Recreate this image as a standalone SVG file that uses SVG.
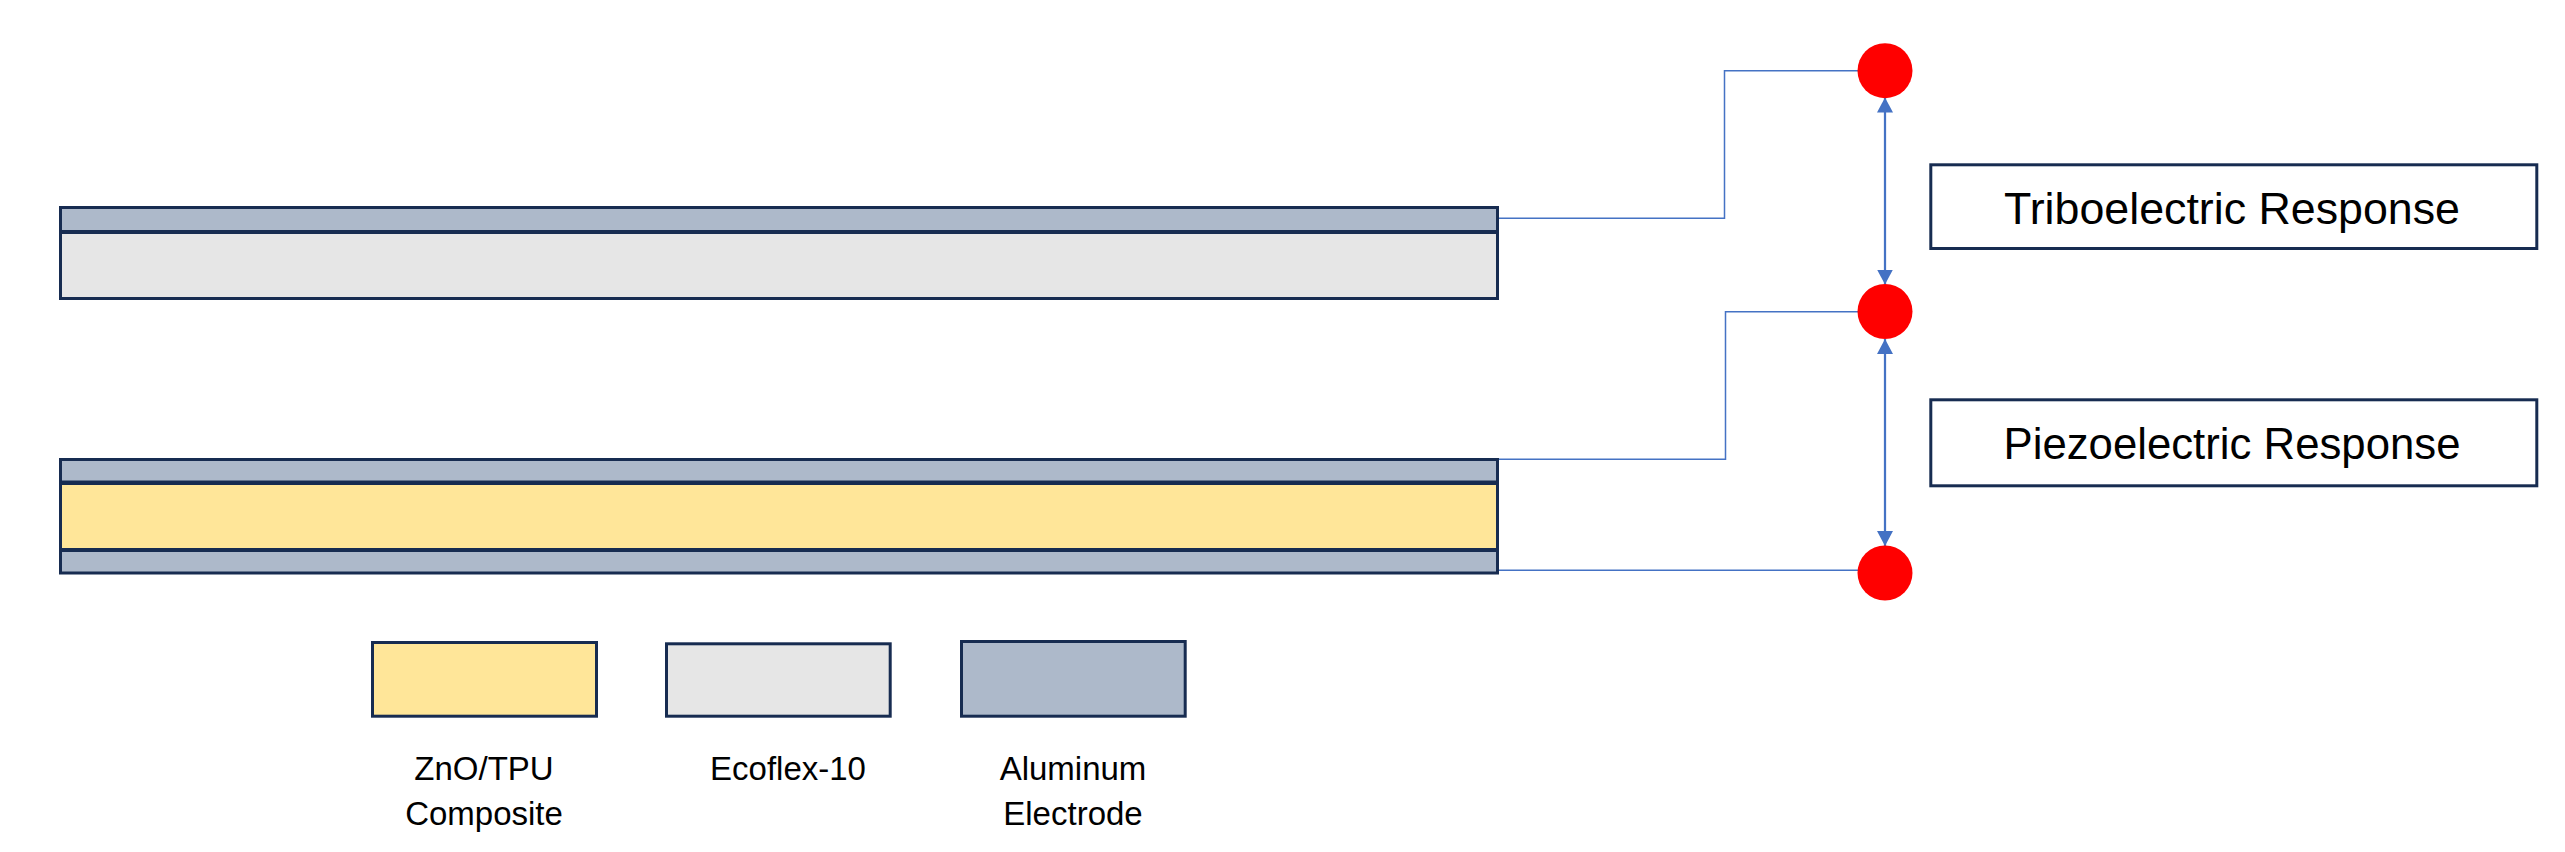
<svg xmlns="http://www.w3.org/2000/svg" width="2565" height="852" viewBox="0 0 2565 852">
  <style>
    .layer { stroke: #172C51; stroke-width: 3; }
    .al { fill: #ADB9CA; }
    .eco { fill: #E6E6E6; }
    .zno { fill: #FFE699; }
    .wire { fill: none; stroke: #4472C4; stroke-width: 1.5; }
    .dbl { fill: none; stroke: #4472C4; stroke-width: 2.25; marker-start: url(#arrow); marker-end: url(#arrow); }
    .term { fill: #FF0000; }
    .box { fill: #FFFFFF; stroke: #172C51; stroke-width: 3; }
    .lbl { font-family: "Liberation Sans", Arial, sans-serif; font-size: 44.5px; fill: #000000; text-anchor: middle; }
    .leg { font-family: "Liberation Sans", Arial, sans-serif; font-size: 33px; fill: #000000; text-anchor: middle; }
  </style>
  <defs>
    <marker id="arrow" viewBox="0 0 15 16" refX="15" refY="8" markerWidth="15" markerHeight="16" markerUnits="userSpaceOnUse" orient="auto-start-reverse">
      <path d="M0,0 L15,8 L0,16 z" fill="#4472C4"/>
    </marker>
  </defs>
  <rect width="2565" height="852" fill="#FFFFFF"/>

  <g id="connectors">
    <path class="wire" d="M1497,218.3 H1724.5 V70.7 H1858"/>
    <path class="wire" d="M1497,459.3 H1725.5 V311.7 H1858"/>
    <path class="wire" d="M1497,570.3 H1858"/>
    <line class="dbl" x1="1885" y1="97.5" x2="1885" y2="284.5"/>
    <line class="dbl" x1="1885" y1="339" x2="1885" y2="546"/>
  </g>

  <g id="triboelectric-stack">
    <rect class="layer eco" x="60.5" y="232.5" width="1437" height="66"/>
    <rect class="layer al" x="60.5" y="207.5" width="1437" height="24"/>
  </g>

  <g id="piezoelectric-stack">
    <rect class="layer zno" x="60.5" y="483.5" width="1437" height="66"/>
    <rect class="layer al" x="60.5" y="459.5" width="1437" height="22.5"/>
    <rect class="layer al" x="60.5" y="550.5" width="1437" height="22.5"/>
  </g>

  <g id="terminal-1"><circle class="term" cx="1885" cy="70.7" r="27.5"/></g>
  <g id="terminal-2"><circle class="term" cx="1885" cy="311.5" r="27.5"/></g>
  <g id="terminal-3"><circle class="term" cx="1885" cy="573" r="27.5"/></g>

  <g id="triboelectric-response">
    <rect class="box" x="1930.8" y="164.8" width="606" height="83.7"/>
    <text class="lbl" x="2232" y="224" textLength="456" lengthAdjust="spacingAndGlyphs">Triboelectric Response</text>
  </g>
  <g id="piezoelectric-response">
    <rect class="box" x="1930.8" y="399.8" width="606" height="86"/>
    <text class="lbl" x="2232" y="459.3" textLength="457" lengthAdjust="spacingAndGlyphs">Piezoelectric Response</text>
  </g>

  <g id="legend-zno">
    <rect class="layer zno" x="372.5" y="642.5" width="224" height="73.7"/>
    <text class="leg" x="484" y="780">ZnO/TPU</text>
    <text class="leg" x="484" y="825">Composite</text>
  </g>
  <g id="legend-ecoflex">
    <rect class="layer eco" x="666.5" y="643.8" width="223.7" height="72.4"/>
    <text class="leg" x="788" y="780">Ecoflex-10</text>
  </g>
  <g id="legend-aluminum">
    <rect class="layer al" x="961.5" y="641.5" width="223.7" height="74.7"/>
    <text class="leg" x="1073" y="780">Aluminum</text>
    <text class="leg" x="1073" y="825">Electrode</text>
  </g>
</svg>
